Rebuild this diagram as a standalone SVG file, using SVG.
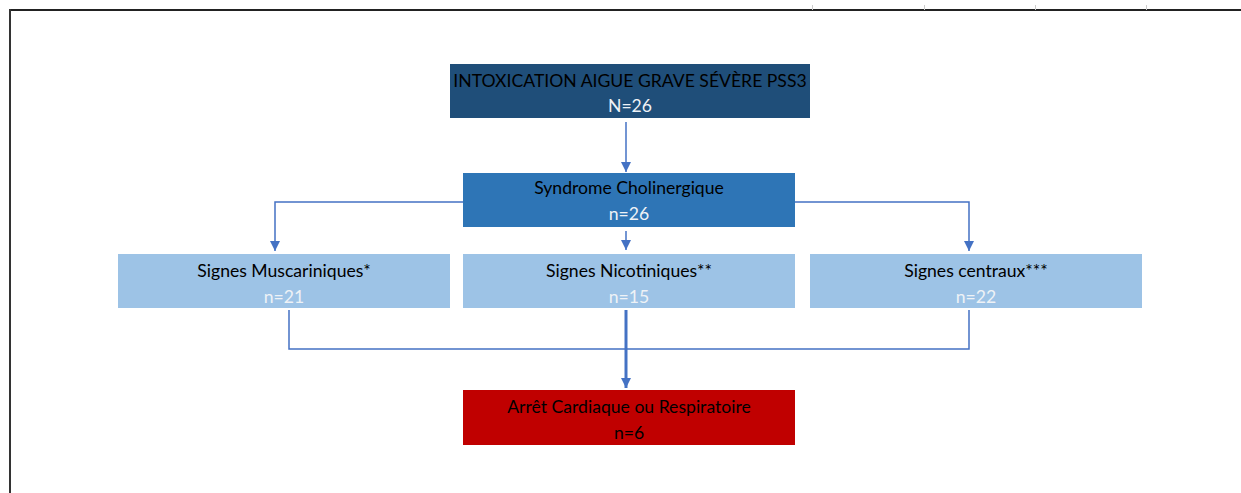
<svg xmlns="http://www.w3.org/2000/svg" width="1241" height="493" viewBox="0 0 1241 493">
<defs>
<style>
.t{font-family:Lato,"Open Sans","Liberation Sans",sans-serif;font-size:17.6px;text-anchor:middle}
.k{fill:#000}
.w{fill:#eef2f6}
.c{fill:none;stroke:#4472C4;stroke-width:1.5}
</style>
<marker id="ah" markerWidth="10" markerHeight="10" refX="10" refY="5" orient="auto" markerUnits="userSpaceOnUse" viewBox="0 0 10 10">
<path d="M0,0 L10,5 L0,10 Z" fill="#4472C4"/>
</marker>
</defs>
<rect width="1241" height="493" fill="#fff"/>
<g id="frame">
<line x1="10" y1="10" x2="1241" y2="10" stroke="#222" stroke-width="2"/>
<line x1="10" y1="9" x2="10" y2="493" stroke="#333" stroke-width="2"/>
<g stroke="#ccc" stroke-width="1">
<line x1="812.5" y1="5" x2="812.5" y2="10"/>
<line x1="924.5" y1="5" x2="924.5" y2="10"/>
<line x1="1035.5" y1="5" x2="1035.5" y2="10"/>
<line x1="1146.5" y1="5" x2="1146.5" y2="10"/>
</g>
</g>
<g id="connectors">
<line class="c" x1="626" y1="122" x2="626" y2="172" marker-end="url(#ah)"/>
<polyline class="c" points="463,202 275,202 275,251" marker-end="url(#ah)"/>
<polyline class="c" points="795,202 969,202 969,251" marker-end="url(#ah)"/>
<line class="c" x1="626" y1="231" x2="626" y2="250" marker-end="url(#ah)"/>
<polyline class="c" points="289,310 289,349 969,349 969,310"/>
<line class="c" x1="626" y1="310" x2="626" y2="388" style="stroke-width:3" marker-end="url(#ah)"/>
</g>
<g id="n-intox">
<rect x="450" y="64" width="360" height="54" fill="#1F4E79"/>
<text class="t k" x="630" y="87">INTOXICATION AIGUE GRAVE SÉVÈRE PSS3</text>
<text class="t w" x="630" y="112">N=26</text>
</g>
<g id="n-syndrome">
<rect x="463" y="173" width="332" height="54" fill="#2E75B6"/>
<text class="t k" x="629" y="194">Syndrome Cholinergique</text>
<text class="t w" x="629" y="220">n=26</text>
</g>
<g id="n-musc">
<rect x="118" y="254" width="332" height="54" fill="#9DC3E6"/>
<text class="t k" x="284" y="277">Signes Muscariniques*</text>
<text class="t w" x="284" y="303">n=21</text>
</g>
<g id="n-nico">
<rect x="463" y="254" width="332" height="54" fill="#9DC3E6"/>
<text class="t k" x="629" y="277">Signes Nicotiniques**</text>
<text class="t w" x="629" y="303">n=15</text>
</g>
<g id="n-central">
<rect x="810" y="254" width="332" height="54" fill="#9DC3E6"/>
<text class="t k" x="976" y="277">Signes centraux***</text>
<text class="t w" x="976" y="303">n=22</text>
</g>
<g id="n-arret">
<rect x="463" y="390" width="332" height="55" fill="#C00000"/>
<text class="t k" x="629" y="413">Arrêt Cardiaque ou Respiratoire</text>
<text class="t k" x="629" y="439">n=6</text>
</g>
</svg>
